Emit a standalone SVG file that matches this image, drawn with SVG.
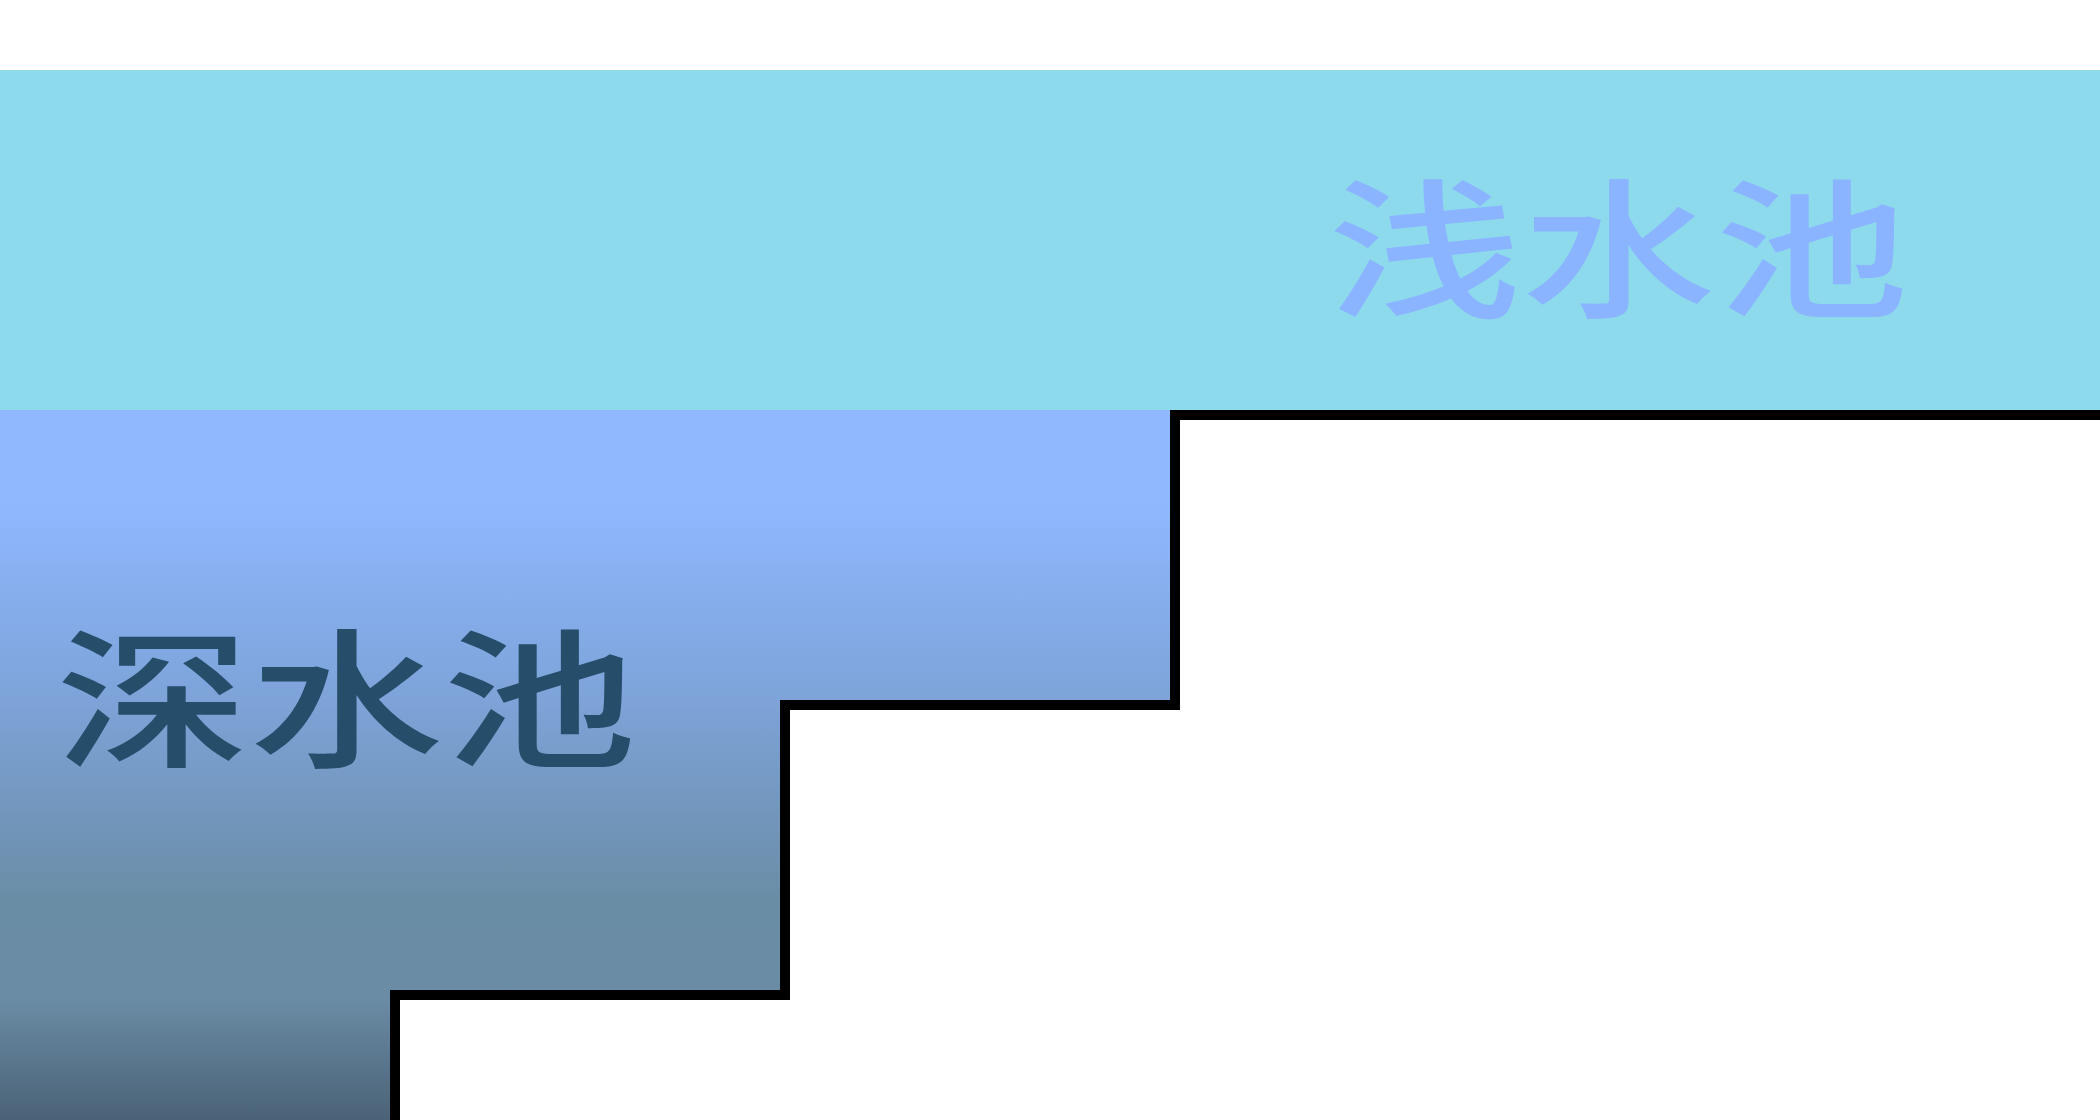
<svg xmlns="http://www.w3.org/2000/svg" width="2100" height="1120" viewBox="0 0 2100 1120">
  <defs>
    <linearGradient id="deepGrad" gradientUnits="userSpaceOnUse" x1="0" y1="410" x2="0" y2="1120">
      <stop offset="0" stop-color="#8FB8FF"/>
      <stop offset="0.13" stop-color="#8FB8FF"/>
      <stop offset="0.41" stop-color="#7DA3D8"/>
      <stop offset="0.69" stop-color="#6A8DA6"/>
      <stop offset="0.83" stop-color="#6A8CA5"/>
      <stop offset="1" stop-color="#4A6276"/>
    </linearGradient>
    <style>
      .label { font-family: "Noto Sans CJK SC", "Noto Sans", sans-serif; font-size: 150px; font-weight: 500; }
      .wall { fill: none; stroke: #000000; stroke-width: 10; stroke-linejoin: miter; }
    </style>
  </defs>
  <rect x="0" y="0" width="2100" height="1120" fill="#FFFFFF"/>
  <g id="shallow-pool">
    <rect x="0" y="70" width="2100" height="340" fill="#8DDAED"/>
    <text class="label" fill="#8AB4FF" transform="translate(1328,306) scale(1.29,1)">浅水池</text>
  </g>
  <g id="deep-pool">
    <polygon points="0,410 1170,410 1170,700 780,700 780,990 390,990 390,1120 0,1120" fill="url(#deepGrad)"/>
    <text class="label" fill="#264D6A" transform="translate(56,756) scale(1.29,1)">深水池</text>
  </g>
  <g id="connectors">
    <path class="wall" d="M2100,415 L1175,415 L1175,705 L785,705 L785,995 L395,995 L395,1125"/>
  </g>
</svg>
